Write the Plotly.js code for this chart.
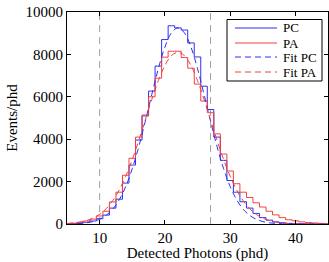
<!DOCTYPE html>
<html>
<head>
<meta charset="utf-8">
<script src="https://cdn.plot.ly/plotly-3.0.1.min.js"></script>
<style>
  html, body { margin: 0; padding: 0; background: #fff; }
  #chart { width: 329px; height: 262px; }
</style>
</head>
<body>
<div id="chart"></div>
<script>
// Detected photon bins (phd), one bin per integer
const bins = [5, 6, 7, 8, 9, 10, 11, 12, 13, 14, 15, 16, 17, 18, 19, 20, 21, 22, 23, 24, 25,
              26, 27, 28, 29, 30, 31, 32, 33, 34, 35, 36, 37, 38, 39, 40, 41, 42, 43, 44, 45];

// Measured spectra, events per phd
const countsPC = [10, 20, 40, 80, 140, 250, 420, 750, 1170, 1930, 2780, 3960, 5100, 6270, 7450, 8700, 9350, 9250, 9150, 8540, 7880,
                  6500, 5400, 4100, 3000, 2050, 1500, 1050, 750, 500, 300, 180, 100, 60, 30, 15, 8, 5, 3, 2, 1];
const countsPA = [20, 40, 80, 140, 230, 380, 600, 1040, 1500, 2300, 3100, 4100, 5140, 6000, 6880, 7870, 8150, 8150, 7850, 7350, 6600,
                  5800, 5250, 4250, 3300, 2500, 1900, 1500, 1250, 1000, 800, 600, 430, 300, 200, 150, 100, 70, 50, 30, 20];

// Fitted curves evaluated on the same bin grid
const fitPC = [6, 12, 27, 58, 117, 224, 406, 698, 1140, 1770, 2608, 3649, 4849, 6118, 7331, 8342, 9014, 9250, 9014, 8342, 7331,
               6118, 4849, 3649, 2608, 1770, 1140, 698, 406, 224, 117, 58, 27, 12, 6, 3, 1, 0, 0, 0, 0];
const fitPA = [25, 48, 90, 161, 276, 455, 720, 1096, 1603, 2252, 3040, 3943, 4913, 5881, 6766, 7477, 7940, 8100, 7940, 7477, 6766,
               5881, 4913, 3943, 3040, 2252, 1603, 1096, 720, 455, 276, 161, 90, 48, 25, 12, 6, 3, 1, 0, 0];

// Analysis window boundaries (phd)
const cutLines = [10, 27];

const xTicks = [10, 20, 30, 40];
const yTicks = [0, 2000, 4000, 6000, 8000, 10000];

const seriesNames = ['PC', 'PA', 'Fit PC', 'Fit PA'];

const blue = '#2f2ff2';
const red = '#f04040';
const serif = 'Liberation Serif, Times New Roman, serif';
const fitDash = '6px,4px';

const styles = [
  { color: blue, dash: 'solid' },
  { color: red, dash: 'solid' },
  { color: blue, dash: fitDash },
  { color: red, dash: fitDash }
];

const traces = [
  { x: bins, y: countsPC, name: seriesNames[0], mode: 'lines', line: { color: blue, width: 1, shape: 'hvh' } },
  { x: bins, y: countsPA, name: seriesNames[1], mode: 'lines', line: { color: red, width: 1, shape: 'hvh' } },
  { x: bins, y: fitPC, name: seriesNames[2], mode: 'lines', line: { color: blue, width: 1, dash: fitDash, shape: 'spline' } },
  { x: bins, y: fitPA, name: seriesNames[3], mode: 'lines', line: { color: red, width: 1, dash: fitDash, shape: 'spline' } }
];

const shapes = cutLines.map(c => ({
  type: 'line', xref: 'x', yref: 'paper', x0: c, x1: c, y0: 0, y1: 1,
  line: { color: '#a0a0a0', width: 1, dash: '7px,5px' }, layer: 'below'
}));

// Compact legend box drawn in paper coordinates (plot area: 67..328 x 12..224 px)
const pxX = px => (px - 67) / 261;
const pxY = py => (224 - py) / 212;
const legendShapes = [{
  type: 'rect', xref: 'paper', yref: 'paper',
  x0: pxX(227), x1: pxX(322), y0: pxY(81), y1: pxY(19.5),
  line: { color: '#000', width: 1 }, fillcolor: '#fff', layer: 'above'
}];
const rowY = [28, 43, 57, 72];
const annotations = [];
seriesNames.forEach((name, i) => {
  legendShapes.push({
    type: 'line', xref: 'paper', yref: 'paper',
    x0: pxX(235), x1: pxX(277), y0: pxY(rowY[i]), y1: pxY(rowY[i]),
    line: { color: styles[i].color, width: 1, dash: styles[i].dash }, layer: 'above'
  });
  annotations.push({
    xref: 'paper', yref: 'paper', x: pxX(281), y: pxY(rowY[i]),
    xanchor: 'left', yanchor: 'middle', showarrow: false, text: name,
    font: { family: serif, size: 13, color: '#000' }
  });
});

const axisCommon = {
  showline: true, linecolor: '#000', linewidth: 1, mirror: 'ticks',
  ticks: 'inside', ticklen: 4, tickcolor: '#000', showgrid: false, zeroline: false,
  tickfont: { family: serif, size: 15, color: '#000' }
};

const layout = {
  width: 329, height: 262,
  margin: { l: 67, r: 1, t: 12, b: 38 },
  paper_bgcolor: '#fff', plot_bgcolor: '#fff',
  showlegend: false,
  xaxis: Object.assign({}, axisCommon, {
    range: [5, 45], tickvals: xTicks, ticktext: xTicks.map(String),
    title: { text: 'Detected Photons (phd)', font: { family: serif, size: 15, color: '#000' }, standoff: 2 }
  }),
  yaxis: Object.assign({}, axisCommon, {
    range: [0, 10000], tickvals: yTicks, ticktext: yTicks.map(String),
    title: { text: 'Events/phd', font: { family: serif, size: 15, color: '#000' }, standoff: 4 }
  }),
  shapes: shapes.concat(legendShapes),
  annotations: annotations
};

Plotly.newPlot('chart', traces, layout, { staticPlot: true, displayModeBar: false });
</script>
</body>
</html>
